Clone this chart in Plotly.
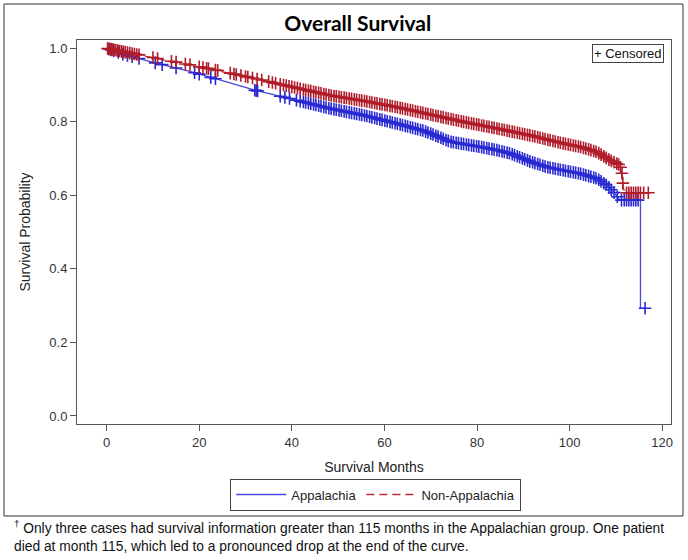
import plotly.graph_objects as go

# ---- Data (Kaplan-Meier estimates) ----
app_months = [0, 3.5, 10, 18, 25, 32, 40, 48.3, 55.5, 62.7, 68.4, 70.6, 74.2, 80.7, 84.3,
              87.2, 91.5, 95.1, 98.7, 102.3, 105.9, 108.1, 109.5, 110.9, 115.3, 115.3, 116.3]
app_surv = [1.0, 0.984, 0.962, 0.937, 0.912, 0.886, 0.862, 0.836, 0.818, 0.795, 0.776, 0.765,
            0.746, 0.732, 0.723, 0.714, 0.692, 0.677, 0.668, 0.659, 0.646, 0.627, 0.609, 0.587,
            0.587, 0.293, 0.293]

non_months = [0, 5, 12, 18, 25, 32, 40, 48.3, 55.5, 62.7, 69.9, 77.1, 84.3, 91.5, 98.7,
              102.3, 105.9, 108.8, 110.9, 111.3, 111.6, 112.0, 117.0]
non_surv = [1.0, 0.987, 0.970, 0.955, 0.937, 0.918, 0.895, 0.872, 0.857, 0.840, 0.820, 0.800,
            0.782, 0.763, 0.741, 0.732, 0.718, 0.695, 0.682, 0.660, 0.620, 0.607, 0.607]

# censoring times (months)
dense_censor = [42.5, 43.0, 43.6, 44.1, 44.7, 45.2, 45.8, 46.3, 46.9, 47.4, 48.0, 48.5, 49.1,
                49.6, 50.2, 50.7, 51.3, 51.8, 52.4, 52.9, 53.5, 54.0, 54.6, 55.1, 55.7, 56.2,
                56.8, 57.3, 57.9, 58.4, 59.0, 59.5, 60.1, 60.6, 61.2, 61.7, 62.3, 62.8, 63.4,
                63.9, 64.5, 65.0, 65.6, 66.1, 66.7, 67.2, 67.8, 68.3, 68.9, 69.4, 70.0, 70.5,
                71.1, 71.6, 72.2, 72.7, 73.3, 73.8, 74.4, 74.9, 75.5, 76.0, 76.6, 77.1, 77.7,
                78.2, 78.8, 79.3, 79.9, 80.4, 81.0, 81.5, 82.1, 82.6, 83.2, 83.7, 84.3, 84.8,
                85.4, 85.9, 86.5, 87.0, 87.6, 88.1, 88.7, 89.2, 89.8, 90.3, 90.9, 91.4, 92.0,
                92.5, 93.1, 93.6, 94.2, 94.7, 95.3, 95.8, 96.4, 96.9, 97.5, 98.0, 98.6, 99.1,
                99.7, 100.2, 100.8, 101.3, 101.9, 102.4, 103.0, 103.5, 104.1, 104.6, 105.2,
                105.7, 106.3, 106.8, 107.4, 107.9, 108.5]

app_censor_early = [0.5, 1, 1.5, 2.5, 3.5, 4.5, 5.5, 7, 10.5, 12, 15, 19, 20, 22.5,
                    23.5, 32, 32.3, 32.6, 37.5, 38.5, 39.5, 41, 41.8]
app_censor_late = [109.0, 109.6, 110.3, 111.2, 111.8, 112.3, 112.8, 113.3, 113.8, 114.3,
                   114.8, 116.3]

non_censor_early = [0.2, 0.5, 0.8, 1, 1.3, 1.6, 2, 2.4, 2.8, 3.2, 3.6, 4, 4.5, 5, 5.5, 6, 6.5,
                    7, 10, 11, 14, 15, 17, 18, 20, 20.8, 21.6, 22, 23.5, 24, 26.7, 27.5, 28,
                    29, 30, 30.5, 31.5, 32.5, 33.5, 35, 35.8, 36.5, 37.5, 38.2, 38.8, 39.4,
                    40.0, 40.6, 41.2, 41.8]
non_censor_late = [109.0, 109.6, 110.2, 110.6, 111.0, 111.3, 111.5, 112.3, 112.8, 113.3,
                   113.8, 114.3, 114.8, 115.3, 116.0, 117.0]

x_ticks = [0, 20, 40, 60, 80, 100, 120]
y_ticks = [0.0, 0.2, 0.4, 0.6, 0.8, 1.0]

BLUE_LINE = "#4848de"
BLUE_MARK = "#2a2ad2"
RED_LINE = "#c22a36"
RED_MARK = "#b01c2a"
FONT = "Liberation Sans, Arial, sans-serif"


def surv_at(times, months, surv):
    """Survival value on the drawn curve at each censoring time."""
    out = []
    for t in times:
        idx = [i for i, m in enumerate(months) if m <= t]
        i = idx[-1]
        if i + 1 < len(months) and months[i + 1] > months[i]:
            frac = (t - months[i]) / (months[i + 1] - months[i])
            out.append(surv[i] + frac * (surv[i + 1] - surv[i]))
        else:
            out.append(surv[i])
    return out


app_c = app_censor_early + dense_censor + app_censor_late
non_c = non_censor_early + dense_censor + non_censor_late
app_c_y = surv_at(app_c, app_months, app_surv)
non_c_y = surv_at(non_c, non_months, non_surv)

fig = go.Figure()
fig.add_trace(go.Scatter(x=app_months, y=app_surv, mode="lines", name="Appalachia",
                         line=dict(color=BLUE_LINE, width=1.3)))
fig.add_trace(go.Scatter(x=app_c, y=app_c_y, mode="markers", showlegend=False,
                         marker=dict(symbol="cross-thin", size=9,
                                     line=dict(color=BLUE_MARK, width=1.6))))
fig.add_trace(go.Scatter(x=non_months, y=non_surv, mode="lines", name="Non-Appalachia",
                         line=dict(color=RED_LINE, width=1.3, dash="8px,5px")))
fig.add_trace(go.Scatter(x=non_c, y=non_c_y, mode="markers", showlegend=False,
                         marker=dict(symbol="cross-thin", size=9,
                                     line=dict(color=RED_MARK, width=1.6))))

axis_common = dict(showline=True, linecolor="#555555", linewidth=1, mirror=True,
                   ticks="outside", ticklen=6, tickcolor="#555555", showgrid=False,
                   zeroline=False, tickfont=dict(family=FONT, size=13, color="#333333"))

fig.update_layout(
    width=688, height=560,
    margin=dict(l=77, r=17, t=40, b=136),
    paper_bgcolor="white", plot_bgcolor="white",
    font=dict(family=FONT, color="#222222"),
    title=dict(text="<b>Overall Survival</b>", x=0.52, xanchor="center", y=0.958,
               yanchor="middle", font=dict(family="Lato, Open Sans, sans-serif", size=21,
                                           color="#000000")),
    xaxis=dict(range=[-6.4, 121.9], tickvals=x_ticks,
               title=dict(text="Survival Months", standoff=13,
                          font=dict(family=FONT, size=14, color="#222222")),
               **axis_common),
    yaxis=dict(range=[-0.0218, 1.0226], tickvals=y_ticks, tickformat=".1f",
               title=dict(text="Survival Probability", standoff=15,
                          font=dict(family=FONT, size=14, color="#222222")),
               **axis_common),
    legend=dict(orientation="h", x=0.503, xanchor="center", y=-0.142, yanchor="top",
                bordercolor="#444444", borderwidth=1, font=dict(family=FONT, size=13),
                itemwidth=50, tracegroupgap=0),
    showlegend=True,
)

# "+ Censored" inset legend
fig.add_annotation(xref="paper", yref="paper", x=0.988, y=0.99, xanchor="right",
                   yanchor="top", text="+ Censored", showarrow=False,
                   font=dict(family=FONT, size=13, color="#111111"),
                   bordercolor="#444444", borderwidth=1, borderpad=1, bgcolor="white")

# outer frame
fig.add_shape(type="rect", xref="paper", yref="paper", x0=-0.1229, x1=1.0202,
              y0=-0.2396, y1=1.0937, line=dict(color="#333333", width=1),
              fillcolor="rgba(0,0,0,0)", layer="below")

# footnote
fig.add_annotation(xref="paper", yref="paper", x=-0.110, y=-0.240, xanchor="left",
                   yanchor="top", align="left", showarrow=False,
                   text="<sup>†</sup> Only three cases had survival information greater than 115 months in the Appalachian group. One patient<br>died at month 115, which led to a pronounced drop at the end of the curve.",
                   font=dict(family=FONT, size=13.8, color="#111111"))

fig.write_html("out.html", config={"displayModeBar": False},
               post_script="document.body.style.margin='0';document.body.style.padding='0';")
